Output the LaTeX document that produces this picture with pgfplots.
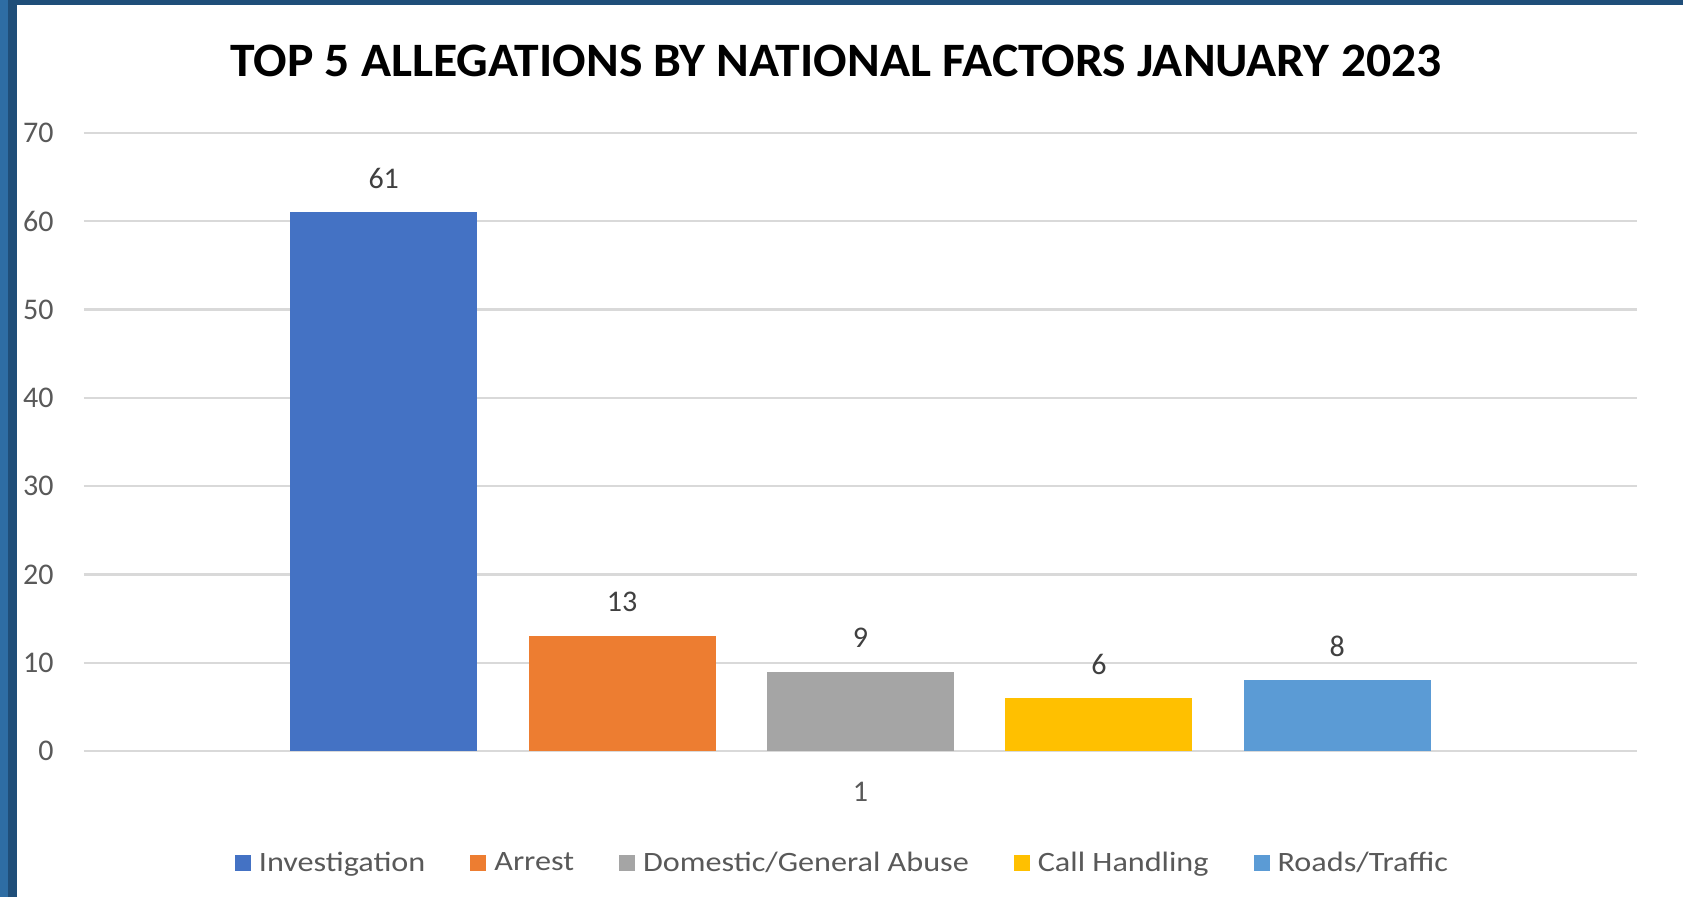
\documentclass[border=0pt]{standalone}
\usepackage{pgfplots}
\pgfplotsset{compat=1.18}
\usepackage{fontspec}
\setmainfont{Carlito}
\newfontfamily\legfont{Carlito}[FakeStretch=1.15]
\newfontfamily\titlefont{Carlito}[FakeStretch=1.035]
\definecolor{cinv}{HTML}{4472C4}
\definecolor{carr}{HTML}{ED7D31}
\definecolor{cdom}{HTML}{A5A5A5}
\definecolor{ccal}{HTML}{FFC000}
\definecolor{crod}{HTML}{5B9BD5}
\definecolor{gridc}{HTML}{D9D9D9}
\definecolor{tickc}{HTML}{595959}
\definecolor{valc}{HTML}{404040}
\definecolor{frameA}{HTML}{2E6DA4}
\definecolor{frameB}{HTML}{1F4E79}
\begin{document}
\begin{tikzpicture}
\useasboundingbox (0,0) rectangle (841.5pt,448.5pt);
\fill[white] (0,0) rectangle (841.5pt,448.5pt);
\fill[frameB] (0,446pt) rectangle (841.5pt,448.5pt);
\fill[frameA] (0,0) rectangle (4pt,448.5pt);
\fill[frameB] (4pt,0) rectangle (8.5pt,448.5pt);
\node[font=\titlefont\bfseries\fontsize{24}{28}\selectfont, text=black] at (418pt,418pt) {TOP 5 ALLEGATIONS BY NATIONAL FACTORS JANUARY 2023};
\begin{axis}[
  at={(42pt,73pt)}, anchor=south west,
  scale only axis, width=776.5pt, height=309pt,
  xmin=0.5, xmax=1.5, ymin=0, ymax=70,
  xtick={1}, ytick={0,10,...,70},
  axis line style={draw=none},
  major tick length=0pt,
  ymajorgrids, grid style={color=gridc, line width=1.1pt},
  /pgf/number format/assume math mode=true,
  tick label style={font=\fontsize{15}{18}\selectfont, text=tickc},
  yticklabel style={anchor=east, inner sep=0pt, xshift=-15pt},
  xticklabel style={anchor=center, yshift=-20.5pt},
  ybar, bar width=0.1205,
  nodes near coords,
  every node near coord/.append style={anchor=center, yshift=17pt, font=\fontsize{15}{18}\selectfont, text=valc},
  legend style={at={(0.4887,-0.181)}, anchor=center, legend columns=-1, draw=none,
    font=\legfont\fontsize{14}{17}\selectfont, text=tickc,
    /tikz/every even column/.append style={column sep=21pt},
    nodes={inner sep=1.5pt}},
  legend image code/.code={\fill[#1] (0pt,-4pt) rectangle (8pt,4pt);},
]
\addplot[fill=cinv, draw=none, bar shift=-0.307] coordinates {(1,61)};
\addplot[fill=carr, draw=none, bar shift=-0.1535] coordinates {(1,13)};
\addplot[fill=cdom, draw=none, bar shift=0] coordinates {(1,9)};
\addplot[fill=ccal, draw=none, bar shift=0.1535] coordinates {(1,6)};
\addplot[fill=crod, draw=none, bar shift=0.307] coordinates {(1,8)};
\legend{\hspace{2.5pt}Investigation, \hspace{2.5pt}Arrest, \hspace{2.5pt}Domestic/General Abuse, \hspace{2.5pt}Call Handling, \hspace{2.5pt}Roads/Traffic}
\end{axis}
\end{tikzpicture}
\end{document}
